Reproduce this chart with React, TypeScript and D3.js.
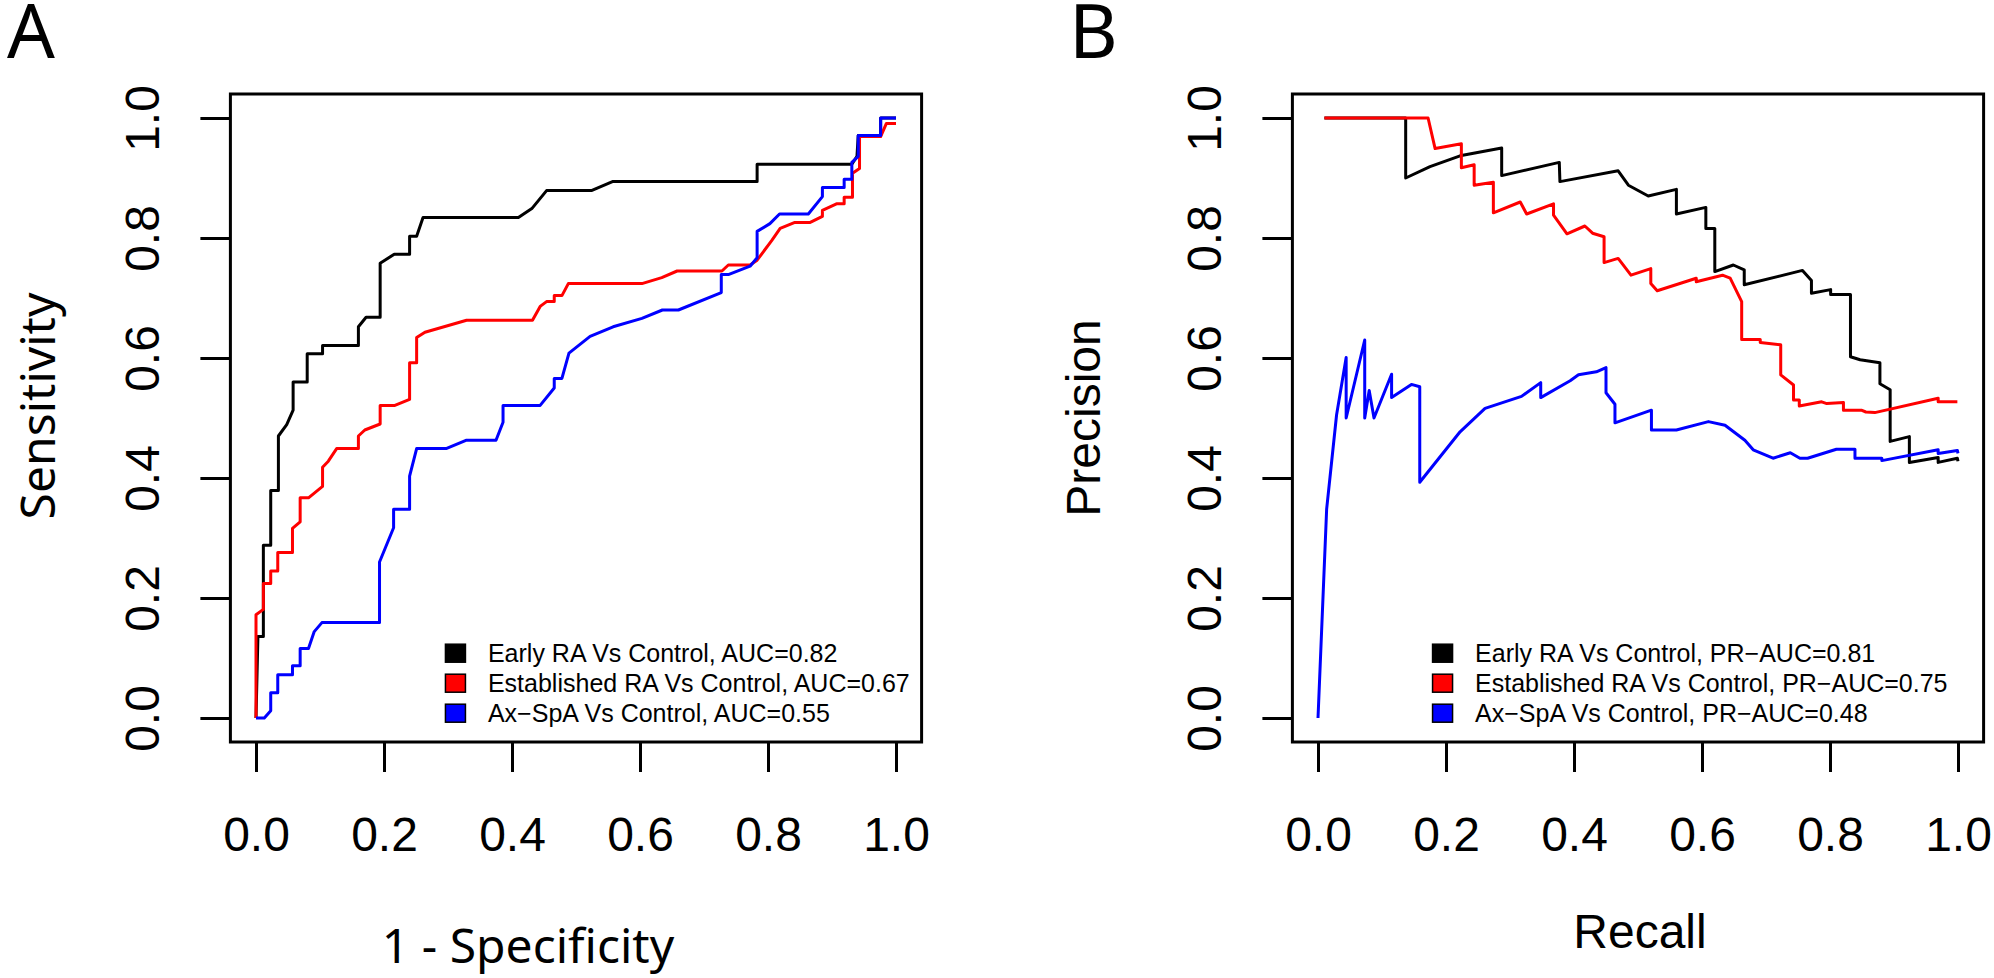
import React, { useEffect, useRef } from 'react';
import * as d3 from 'd3';

type Pt = [number, number];

const W = 1994;
const H = 978;

const tickValues = [0, 0.2, 0.4, 0.6, 0.8, 1.0];
const seriesColors = ['#000000', '#ff0000', '#0000ff'];

const rocLabels = [
  'Early RA Vs Control, AUC=0.82',
  'Established RA Vs Control, AUC=0.67',
  'Ax\u2212SpA Vs Control, AUC=0.55',
];
const prLabels = [
  'Early RA Vs Control, PR\u2212AUC=0.81',
  'Established RA Vs Control, PR\u2212AUC=0.75',
  'Ax\u2212SpA Vs Control, PR\u2212AUC=0.48',
];

// ROC curves: [1 - specificity, sensitivity]
const rocEarlyRA: Pt[] = [
  [0, 0], [0.003, 0.136], [0.0115, 0.136], [0.0115, 0.288], [0.023, 0.288], [0.023, 0.379],
  [0.035, 0.379], [0.035, 0.47], [0.048, 0.489], [0.058, 0.513], [0.058, 0.56], [0.08, 0.56],
  [0.08, 0.607], [0.104, 0.607], [0.104, 0.621], [0.16, 0.621], [0.16, 0.652], [0.172, 0.668],
  [0.194, 0.668], [0.194, 0.758], [0.216, 0.773], [0.24, 0.773], [0.24, 0.803], [0.251, 0.803],
  [0.261, 0.834], [0.41, 0.834], [0.431, 0.849], [0.454, 0.879], [0.524, 0.879], [0.557, 0.894],
  [0.783, 0.894], [0.783, 0.923], [0.931, 0.923], [0.939, 0.936], [0.941, 0.971], [0.976, 0.971],
  [0.976, 1.0], [1.0, 1.0],
];
const rocEstablishedRA: Pt[] = [
  [0, 0], [0, 0.172], [0.0115, 0.181], [0.0115, 0.224], [0.023, 0.224], [0.023, 0.245],
  [0.034, 0.245], [0.034, 0.276], [0.057, 0.276], [0.057, 0.316], [0.069, 0.327], [0.069, 0.367],
  [0.082, 0.367], [0.104, 0.386], [0.104, 0.418], [0.113, 0.428], [0.126, 0.449], [0.16, 0.449],
  [0.16, 0.47], [0.17, 0.48], [0.194, 0.49], [0.194, 0.521], [0.217, 0.521], [0.24, 0.531],
  [0.24, 0.592], [0.251, 0.592], [0.251, 0.634], [0.264, 0.643], [0.329, 0.663], [0.432, 0.663],
  [0.444, 0.686], [0.454, 0.694], [0.466, 0.694], [0.466, 0.704], [0.478, 0.704], [0.488, 0.724],
  [0.603, 0.724], [0.634, 0.734], [0.658, 0.745], [0.728, 0.745], [0.738, 0.755], [0.772, 0.755],
  [0.783, 0.763], [0.806, 0.796], [0.819, 0.816], [0.842, 0.826], [0.866, 0.826], [0.885, 0.836],
  [0.885, 0.846], [0.907, 0.857], [0.919, 0.857], [0.919, 0.868], [0.932, 0.868], [0.932, 0.908],
  [0.943, 0.916], [0.943, 0.969], [0.976, 0.969], [0.985, 0.991], [1.0, 0.991],
];
const rocAxSpA: Pt[] = [
  [0, 0], [0.013, 0], [0.023, 0.012], [0.023, 0.042], [0.034, 0.042], [0.034, 0.072],
  [0.057, 0.072], [0.057, 0.087], [0.069, 0.087], [0.069, 0.116], [0.082, 0.116], [0.091, 0.144],
  [0.103, 0.159], [0.193, 0.159], [0.193, 0.26], [0.215, 0.317], [0.215, 0.348], [0.24, 0.348],
  [0.24, 0.403], [0.251, 0.449], [0.297, 0.449], [0.329, 0.463], [0.375, 0.463], [0.386, 0.493],
  [0.386, 0.521], [0.444, 0.521], [0.466, 0.55], [0.466, 0.566], [0.478, 0.566], [0.489, 0.608],
  [0.522, 0.636], [0.558, 0.652], [0.603, 0.666], [0.635, 0.68], [0.66, 0.68], [0.727, 0.709],
  [0.727, 0.739], [0.738, 0.739], [0.772, 0.753], [0.783, 0.767], [0.783, 0.811], [0.803, 0.824],
  [0.818, 0.84], [0.863, 0.84], [0.885, 0.869], [0.885, 0.884], [0.919, 0.884], [0.919, 0.898],
  [0.931, 0.898], [0.931, 0.926], [0.941, 0.936], [0.941, 0.971], [0.976, 0.971], [0.976, 1.0],
  [1.0, 1.0],
];

// precision-recall curves: [recall, precision]
const prEarlyRA: Pt[] = [
  [0.01, 1.0], [0.137, 1.0], [0.137, 0.9], [0.175, 0.919], [0.222, 0.937], [0.287, 0.95],
  [0.287, 0.904], [0.377, 0.926], [0.378, 0.894], [0.469, 0.912], [0.485, 0.888], [0.516, 0.87],
  [0.56, 0.881], [0.56, 0.84], [0.606, 0.851], [0.606, 0.816], [0.62, 0.816], [0.62, 0.744],
  [0.649, 0.755], [0.666, 0.747], [0.666, 0.722], [0.757, 0.746], [0.771, 0.729], [0.771, 0.708],
  [0.801, 0.714], [0.801, 0.706], [0.832, 0.706], [0.832, 0.602], [0.847, 0.597], [0.878, 0.592],
  [0.878, 0.557], [0.894, 0.547], [0.894, 0.461], [0.924, 0.469], [0.924, 0.426], [0.969, 0.434],
  [0.969, 0.426], [0.999, 0.433], [1.0, 0.428],
];
const prEstablishedRA: Pt[] = [
  [0.01, 1.0], [0.172, 1.0], [0.183, 0.949], [0.224, 0.957], [0.224, 0.917], [0.244, 0.922],
  [0.244, 0.888], [0.274, 0.893], [0.274, 0.842], [0.316, 0.86], [0.326, 0.84], [0.368, 0.857],
  [0.368, 0.838], [0.389, 0.807], [0.417, 0.82], [0.429, 0.808], [0.447, 0.802], [0.447, 0.759],
  [0.469, 0.766], [0.489, 0.738], [0.52, 0.749], [0.52, 0.724], [0.53, 0.712], [0.591, 0.733],
  [0.591, 0.727], [0.632, 0.738], [0.644, 0.733], [0.662, 0.694], [0.662, 0.631], [0.691, 0.631],
  [0.691, 0.626], [0.723, 0.622], [0.723, 0.572], [0.743, 0.555], [0.743, 0.53], [0.752, 0.53],
  [0.752, 0.52], [0.787, 0.527], [0.795, 0.524], [0.821, 0.526], [0.821, 0.513], [0.849, 0.513],
  [0.856, 0.51], [0.87, 0.509], [0.969, 0.533], [0.969, 0.527], [0.999, 0.527],
];
const prAxSpA: Pt[] = [
  [0, 0], [0.0135, 0.348], [0.029, 0.505], [0.044, 0.601], [0.044, 0.5], [0.073, 0.63],
  [0.073, 0.5], [0.08, 0.546], [0.0875, 0.5], [0.115, 0.573], [0.115, 0.534], [0.146, 0.556],
  [0.159, 0.552], [0.159, 0.393], [0.222, 0.477], [0.261, 0.516], [0.318, 0.536], [0.348, 0.559],
  [0.348, 0.534], [0.394, 0.562], [0.407, 0.572], [0.435, 0.577], [0.45, 0.584], [0.45, 0.542],
  [0.464, 0.523], [0.464, 0.492], [0.521, 0.513], [0.521, 0.48], [0.56, 0.48], [0.61, 0.494],
  [0.636, 0.488], [0.667, 0.463], [0.68, 0.447], [0.711, 0.433], [0.738, 0.442], [0.753, 0.433],
  [0.765, 0.433], [0.81, 0.448], [0.839, 0.448], [0.839, 0.433], [0.881, 0.433], [0.881, 0.429],
  [0.969, 0.447], [0.969, 0.441], [0.999, 0.446], [1.0, 0.441],
];

// legend rows, in data units of the y axis
const legendRows = [0.108, 0.058, 0.008];

type Panel = {
  x0: number;
  letter: string;
  series: Pt[][];
  labels: string[];
  legendX: number;
  xTitle: string;
  yTitle: string;
  titleFont: string;
  xTitlePos: [number, number];
  yTitlePos: [number, number];
};

const SANS = '"Liberation Sans", Arial, sans-serif';
const NOTO = '"Noto Sans", "Open Sans", sans-serif';

const panels: Panel[] = [
  {
    x0: 256,
    letter: 'A',
    series: [rocEarlyRA, rocEstablishedRA, rocAxSpA],
    labels: rocLabels,
    legendX: 0.296,
    xTitle: '1 - Specificity',
    yTitle: 'Sensitivity',
    titleFont: NOTO,
    xTitlePos: [528, 963],
    yTitlePos: [55, 406],
  },
  {
    x0: 1318,
    letter: 'B',
    series: [prEarlyRA, prEstablishedRA, prAxSpA],
    labels: prLabels,
    legendX: 0.179,
    xTitle: 'Recall',
    yTitle: 'Precision',
    titleFont: SANS,
    xTitlePos: [1640, 948],
    yTitlePos: [1100, 418],
  },
];

const drawPanel = (svg: d3.Selection<SVGSVGElement, unknown, null, undefined>, p: Panel) => {
  const x = d3.scaleLinear().domain([0, 1]).range([p.x0, p.x0 + 640]);
  const y = d3.scaleLinear().domain([0, 1]).range([718, 118]);
  const g = svg.append('g');

  const line = d3.line<Pt>().x((d) => x(d[0])).y((d) => y(d[1]));
  p.series.forEach((s, i) => {
    g.append('path')
      .attr('d', line(s) || '')
      .attr('fill', 'none')
      .attr('stroke', seriesColors[i])
      .attr('stroke-width', 3)
      .attr('stroke-linejoin', 'round');
  });

  // frame (R extends the range by 4% each side)
  g.append('rect')
    .attr('x', x(-0.04))
    .attr('y', y(1.04))
    .attr('width', x(1.04) - x(-0.04))
    .attr('height', y(-0.04) - y(1.04))
    .attr('fill', 'none')
    .attr('stroke', '#000')
    .attr('stroke-width', 3);

  const xa = g.append('g')
    .attr('transform', `translate(0,${y(-0.04)})`)
    .call(d3.axisBottom(x).tickValues(tickValues).tickSize(30).tickFormat(d3.format('.1f')));
  xa.select('.domain').remove();
  xa.selectAll('line').attr('stroke', '#000').attr('stroke-width', 3);
  xa.selectAll('text')
    .attr('y', 109)
    .attr('dy', '0')
    .attr('fill', '#000')
    .attr('font-size', 48)
    .attr('font-family', SANS);

  const ya = g.append('g')
    .attr('transform', `translate(${x(-0.04)},0)`)
    .call(d3.axisLeft(y).tickValues(tickValues).tickSize(30).tickFormat(d3.format('.1f')));
  ya.select('.domain').remove();
  ya.selectAll('line').attr('stroke', '#000').attr('stroke-width', 3);
  ya.selectAll('text')
    .attr('x', 0)
    .attr('dy', '0')
    .attr('text-anchor', 'middle')
    .attr('transform', 'translate(-71,0) rotate(-90)')
    .attr('fill', '#000')
    .attr('font-size', 48)
    .attr('font-family', SANS);

  // axis titles
  g.append('text')
    .attr('x', p.xTitlePos[0])
    .attr('y', p.xTitlePos[1])
    .attr('text-anchor', 'middle')
    .attr('font-size', 48)
    .attr('font-family', p.titleFont)
    .text(p.xTitle);

  g.append('text')
    .attr('transform', `translate(${p.yTitlePos[0]},${p.yTitlePos[1]}) rotate(-90)`)
    .attr('text-anchor', 'middle')
    .attr('font-size', 48)
    .attr('font-family', p.titleFont)
    .text(p.yTitle);

  // panel letter
  g.append('text')
    .attr('x', p.x0 - 249)
    .attr('y', 58)
    .attr('font-size', 75)
    .attr('font-family', NOTO)
    .text(p.letter);

  // legend, no box
  const lx = x(p.legendX);
  p.labels.forEach((lab, i) => {
    const cy = y(legendRows[i]);
    g.append('rect')
      .attr('x', lx)
      .attr('y', cy - 9)
      .attr('width', 20)
      .attr('height', 18)
      .attr('fill', seriesColors[i])
      .attr('stroke', '#000')
      .attr('stroke-width', 1.5);
    g.append('text')
      .attr('x', lx + 42.5)
      .attr('y', cy + 8.5)
      .attr('font-size', 25)
      .attr('font-family', SANS)
      .text(lab);
  });
};

const App: React.FC = () => {
  const svgRef = useRef<SVGSVGElement | null>(null);

  useEffect(() => {
    const svgEl = svgRef.current;
    if (!svgEl) return;
    const svg = d3.select(svgEl);
    svg.selectAll('*').remove();
    svg.append('rect').attr('width', W).attr('height', H).attr('fill', '#fff');
    panels.forEach((p) => drawPanel(svg, p));
  }, []);

  return (
    <svg
      ref={svgRef}
      width={W}
      height={H}
      viewBox={`0 0 ${W} ${H}`}
      style={{ position: 'absolute', left: 0, top: 0 }}
      role="img"
      aria-label="ROC and precision-recall curves"
    />
  );
};

export default App;
